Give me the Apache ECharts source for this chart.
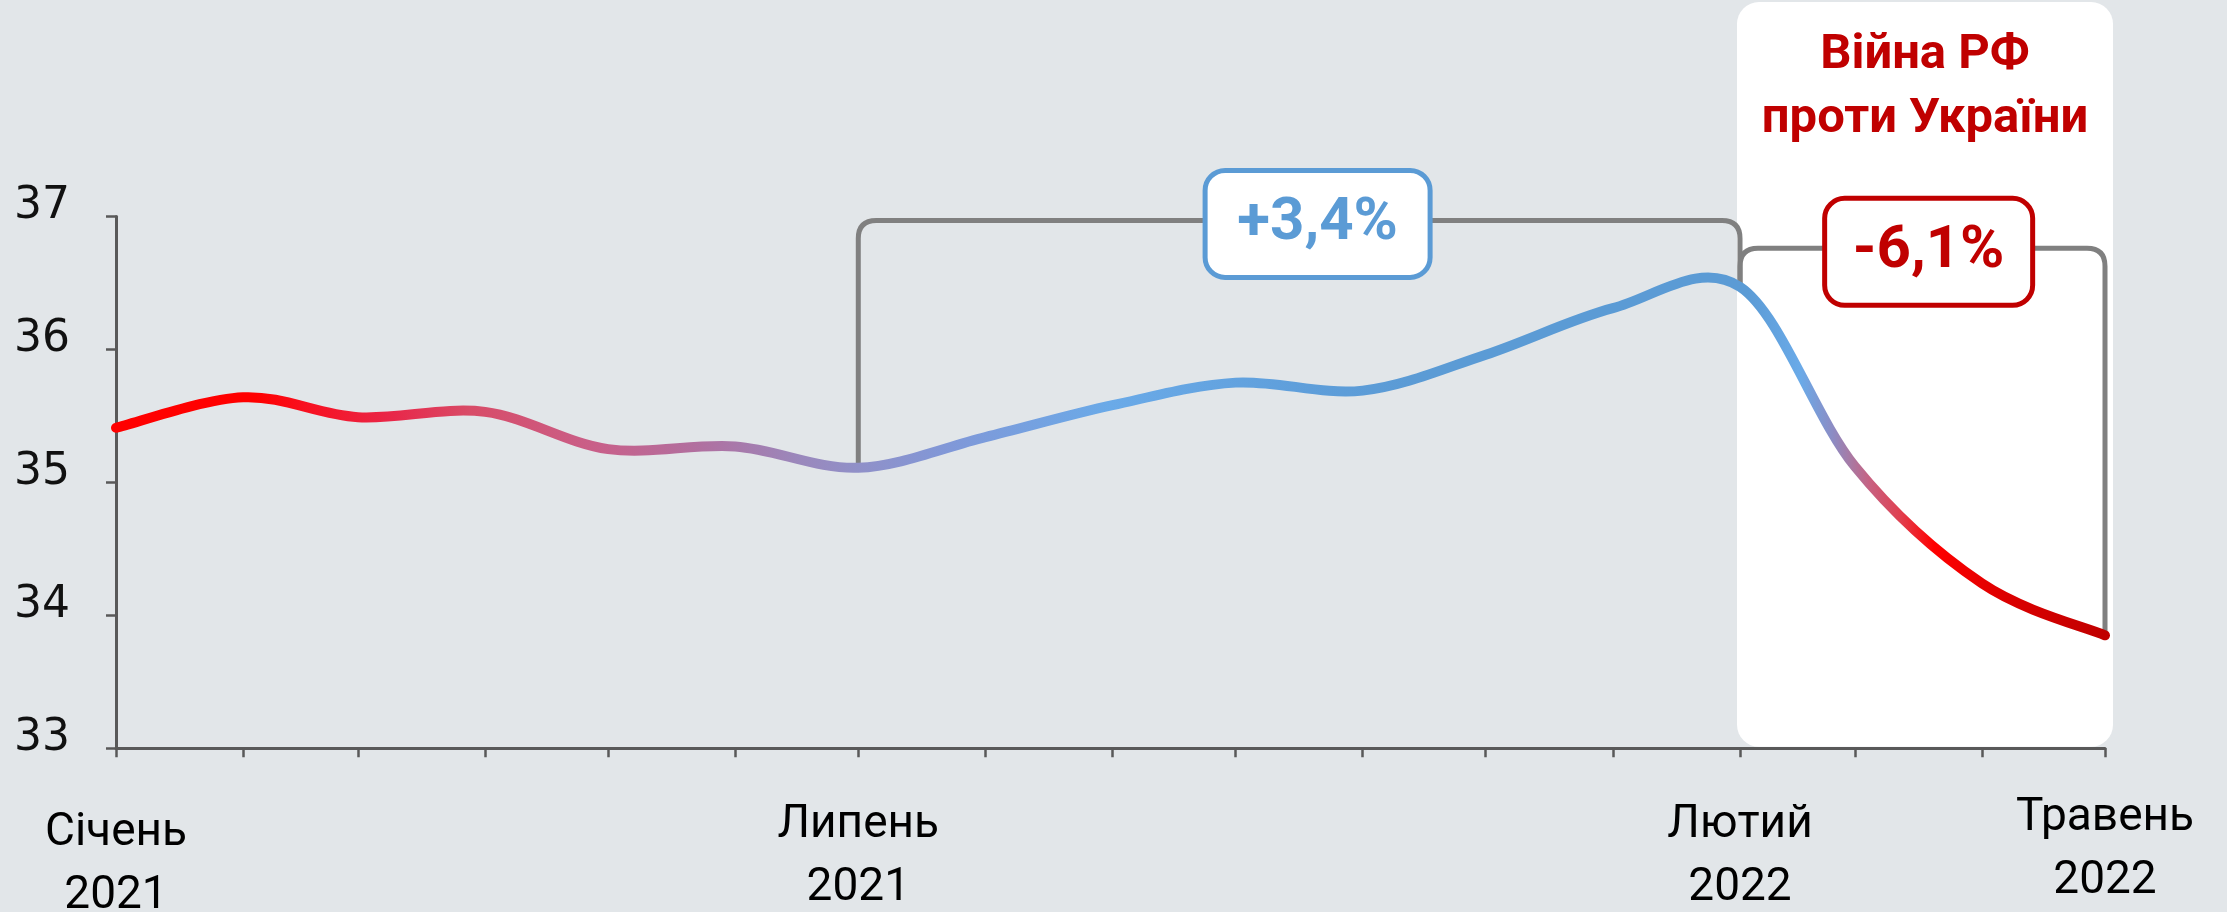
<!DOCTYPE html>
<html>
<head>
<meta charset="utf-8">
<script src="https://cdn.jsdelivr.net/npm/echarts@6/dist/echarts.min.js"></script>
<style>
  html, body { margin: 0; padding: 0; background: #E2E6E9; }
  #chart { width: 2227px; height: 912px; }
</style>
</head>
<body>
<div id="chart"></div>
<script>
// помісячні значення
const months = ['2021-01-01', '2021-02-01', '2021-03-01', '2021-04-01', '2021-05-01', '2021-06-01',
  '2021-07-01', '2021-08-01', '2021-09-01', '2021-10-01', '2021-11-01', '2021-12-01',
  '2022-01-01', '2022-02-01', '2022-03-01', '2022-04-01', '2022-05-01'];
const values = [35.41, 35.64, 35.49, 35.53, 35.25, 35.27, 35.11, 35.34, 35.58, 35.75, 35.69, 35.96,
  36.31, 36.47, 35.12, 34.24, 33.85];

// підписи осі X
const xLabelDates = ['2021-01-01', '2021-07-01', '2022-02-01', '2022-05-01'];
const xLabelMonths = ['Січень', 'Липень', 'Лютий', 'Травень'];
const xLabelYears = ['2021', '2021', '2022', '2022'];

// вісь Y
const yMin = 33;
const yMax = 37;
const yStep = 1;

// зміни
const changeFrom = ['2021-07-01', '2022-02-01'];
const changeTo = ['2022-02-01', '2022-05-01'];
const changeText = ['+3,4%', '-6,1%'];
const changeLevel = [36.97, 36.76];
const changeLabelAt = ['2021-10-21', '2022-03-19'];
const changeColor = ['#5B9BD5', '#C00000'];
const changeBoxWidth = [225, 208];

// війна
const warFrom = '2022-02-01';
const warTo = '2022-05-01';
const warTitle = 'Війна РФ\nпроти України';

function toTime(s) {
  const p = s.split('-').map(Number);
  return new Date(p[0], p[1] - 1, p[2]).getTime();
}
function valueAt(s) {
  return values[months.indexOf(s)];
}
function monthKey(t) {
  const d = new Date(t);
  return d.getFullYear() + '-' + String(d.getMonth() + 1).padStart(2, '0') + '-01';
}

const DAY = 24 * 3600 * 1000;
const labelSpacer = [17, 9, 9, 2];

const lineStops = [
  { offset: 0, color: '#FF0000' },
  { offset: 0.07, color: '#FF0000' },
  { offset: 0.095, color: '#F81020' },
  { offset: 0.14, color: '#E8284A' },
  { offset: 0.178, color: '#D84C68' },
  { offset: 0.243, color: '#C8608A' },
  { offset: 0.294, color: '#B070A0' },
  { offset: 0.344, color: '#9A88BC' },
  { offset: 0.373, color: '#9090C8' },
  { offset: 0.42, color: '#8098D8' },
  { offset: 0.5, color: '#6AAAE8' },
  { offset: 0.6, color: '#5E9EDA' },
  { offset: 0.65, color: '#5B9BD5' },
  { offset: 0.82, color: '#5B9BD5' },
  { offset: 0.847, color: '#6AAAE8' },
  { offset: 0.863, color: '#8C8CC4' },
  { offset: 0.872, color: '#A87AA4' },
  { offset: 0.882, color: '#C86080' },
  { offset: 0.897, color: '#E04050' },
  { offset: 0.914, color: '#FF0000' },
  { offset: 0.95, color: '#DC0000' },
  { offset: 1, color: '#C00000' }
];

const chart = echarts.init(document.getElementById('chart'));

chart.setOption({
  backgroundColor: '#E2E6E9',
  animation: false,
  grid: { left: 116, right: 122, top: 216.4, bottom: 163.7, outerBoundsMode: 'none', containLabel: false },
  xAxis: {
    type: 'time',
    min: toTime(months[0]),
    max: toTime(months[months.length - 1]),
    splitNumber: 16,
    minInterval: 28 * DAY,
    maxInterval: 31 * DAY,
    z: 0,
    axisLine: { lineStyle: { color: '#595959', width: 3 } },
    axisTick: { show: true, length: 9, lineStyle: { color: '#595959', width: 2.5 } },
    splitLine: { show: false },
    axisLabel: {
      show: true,
      interval: 0,
      hideOverlap: false,
      showMinLabel: true,
      showMaxLabel: true,
      margin: 37,
      formatter: function (value) {
        const i = xLabelDates.indexOf(monthKey(value));
        if (i < 0) return '';
        return '{g' + i + '| }\n{m|' + xLabelMonths[i] + '}\n{m|' + xLabelYears[i] + '}';
      },
      rich: {
        g0: { fontSize: 1, lineHeight: labelSpacer[0] },
        g1: { fontSize: 1, lineHeight: labelSpacer[1] },
        g2: { fontSize: 1, lineHeight: labelSpacer[2] },
        g3: { fontSize: 1, lineHeight: labelSpacer[3] },
        m: { fontFamily: 'Roboto', fontSize: 46, lineHeight: 63, color: '#000', align: 'center' }
      }
    }
  },
  yAxis: {
    type: 'value',
    min: yMin,
    max: yMax,
    interval: yStep,
    z: 0,
    axisLine: { show: true, lineStyle: { color: '#595959', width: 3 } },
    axisTick: { show: true, length: 10, lineStyle: { color: '#595959', width: 2.5 } },
    splitLine: { show: false },
    axisLabel: {
      fontFamily: 'DejaVu Sans',
      fontSize: 44,
      color: '#111',
      margin: 46,
      verticalAlign: 'bottom',
      lineHeight: 20
    }
  },
  series: [
    {
      // біла панель
      type: 'custom',
      z: 1,
      silent: true,
      data: [[toTime(warFrom), yMax]],
      renderItem: function (params, api) {
        const l = api.coord([toTime(warFrom), yMax]);
        const r = api.coord([toTime(warTo), yMin]);
        const x0 = l[0] - 3;
        const x1 = r[0] + 8;
        return {
          type: 'group',
          children: [
            {
              type: 'rect',
              shape: { x: x0, y: 2, width: x1 - x0, height: r[1] - 3.5, r: 22 },
              style: { fill: '#FFFFFF' }
            },
            {
              type: 'text',
              style: {
                text: warTitle,
                x: (x0 + x1) / 2,
                y: 87.5,
                align: 'center', textAlign: 'center',
                verticalAlign: 'middle', textVerticalAlign: 'middle',
                fill: '#C00000',
                fontFamily: 'Roboto', fontWeight: 'bold', fontSize: 49,
                lineHeight: 64
              }
            }
          ]
        };
      }
    },
    {
      // дужки
      type: 'custom',
      z: 3,
      silent: true,
      data: changeFrom.map((d, i) => [toTime(d), changeLevel[i]]),
      renderItem: function (params, api) {
        const i = params.dataIndex;
        const a = api.coord([toTime(changeFrom[i]), valueAt(changeFrom[i])]);
        const b = api.coord([toTime(changeTo[i]), valueAt(changeTo[i])]);
        const top = api.coord([toTime(changeFrom[i]), changeLevel[i]])[1];
        const r = 18;
        const d = 'M' + a[0] + ' ' + a[1] +
          ' L' + a[0] + ' ' + (top + r) +
          ' Q' + a[0] + ' ' + top + ' ' + (a[0] + r) + ' ' + top +
          ' L' + (b[0] - r) + ' ' + top +
          ' Q' + b[0] + ' ' + top + ' ' + b[0] + ' ' + (top + r) +
          ' L' + b[0] + ' ' + b[1];
        return {
          type: 'path',
          shape: { pathData: d },
          style: { stroke: '#808080', lineWidth: 5, fill: 'none' }
        };
      }
    },
    {
      // згладжена лінія (як в Excel)
      type: 'custom',
      z: 4,
      silent: true,
      data: months.map((m, i) => [toTime(m), values[i]]),
      renderItem: function (params, api) {
        if (params.dataIndex !== 0) return null;
        const pts = months.map((m, i) => api.coord([toTime(m), values[i]]));
        const n = pts.length;
        let d = 'M' + pts[0][0] + ' ' + pts[0][1];
        for (let i = 0; i < n - 1; i++) {
          const p0 = pts[Math.max(i - 1, 0)];
          const p1 = pts[i];
          const p2 = pts[i + 1];
          const p3 = pts[Math.min(i + 2, n - 1)];
          const c1x = p1[0] + (p2[0] - p0[0]) / 6;
          const c1y = p1[1] + (p2[1] - p0[1]) / 6;
          const c2x = p2[0] - (p3[0] - p1[0]) / 6;
          const c2y = p2[1] - (p3[1] - p1[1]) / 6;
          d += ' C' + c1x + ' ' + c1y + ' ' + c2x + ' ' + c2y + ' ' + p2[0] + ' ' + p2[1];
        }
        return {
          type: 'path',
          shape: { pathData: d },
          style: {
            fill: 'none',
            lineWidth: 10,
            lineCap: 'round',
            lineJoin: 'round',
            stroke: new echarts.graphic.LinearGradient(pts[0][0], 0, pts[n - 1][0], 0, lineStops, true)
          }
        };
      }
    },
    {
      // підписи змін
      type: 'custom',
      z: 6,
      silent: true,
      data: changeLabelAt.map((d, i) => [toTime(d), changeLevel[i]]),
      renderItem: function (params, api) {
        const i = params.dataIndex;
        const c = api.coord([toTime(changeLabelAt[i]), changeLevel[i]]);
        const w = changeBoxWidth[i];
        const h = 107;
        return {
          type: 'group',
          children: [
            {
              type: 'rect',
              shape: { x: c[0] - w / 2, y: c[1] + 3.5 - h / 2, width: w, height: h, r: 20 },
              style: { fill: '#FFFFFF', stroke: changeColor[i], lineWidth: 5 }
            },
            {
              type: 'text',
              style: {
                text: changeText[i],
                x: c[0],
                y: c[1] + 4,
                align: 'center', textAlign: 'center',
                verticalAlign: 'middle', textVerticalAlign: 'middle',
                fill: changeColor[i],
                fontFamily: 'Roboto', fontWeight: 'bold', fontSize: 60
              }
            }
          ]
        };
      }
    }
  ]
});
</script>
</body>
</html>
